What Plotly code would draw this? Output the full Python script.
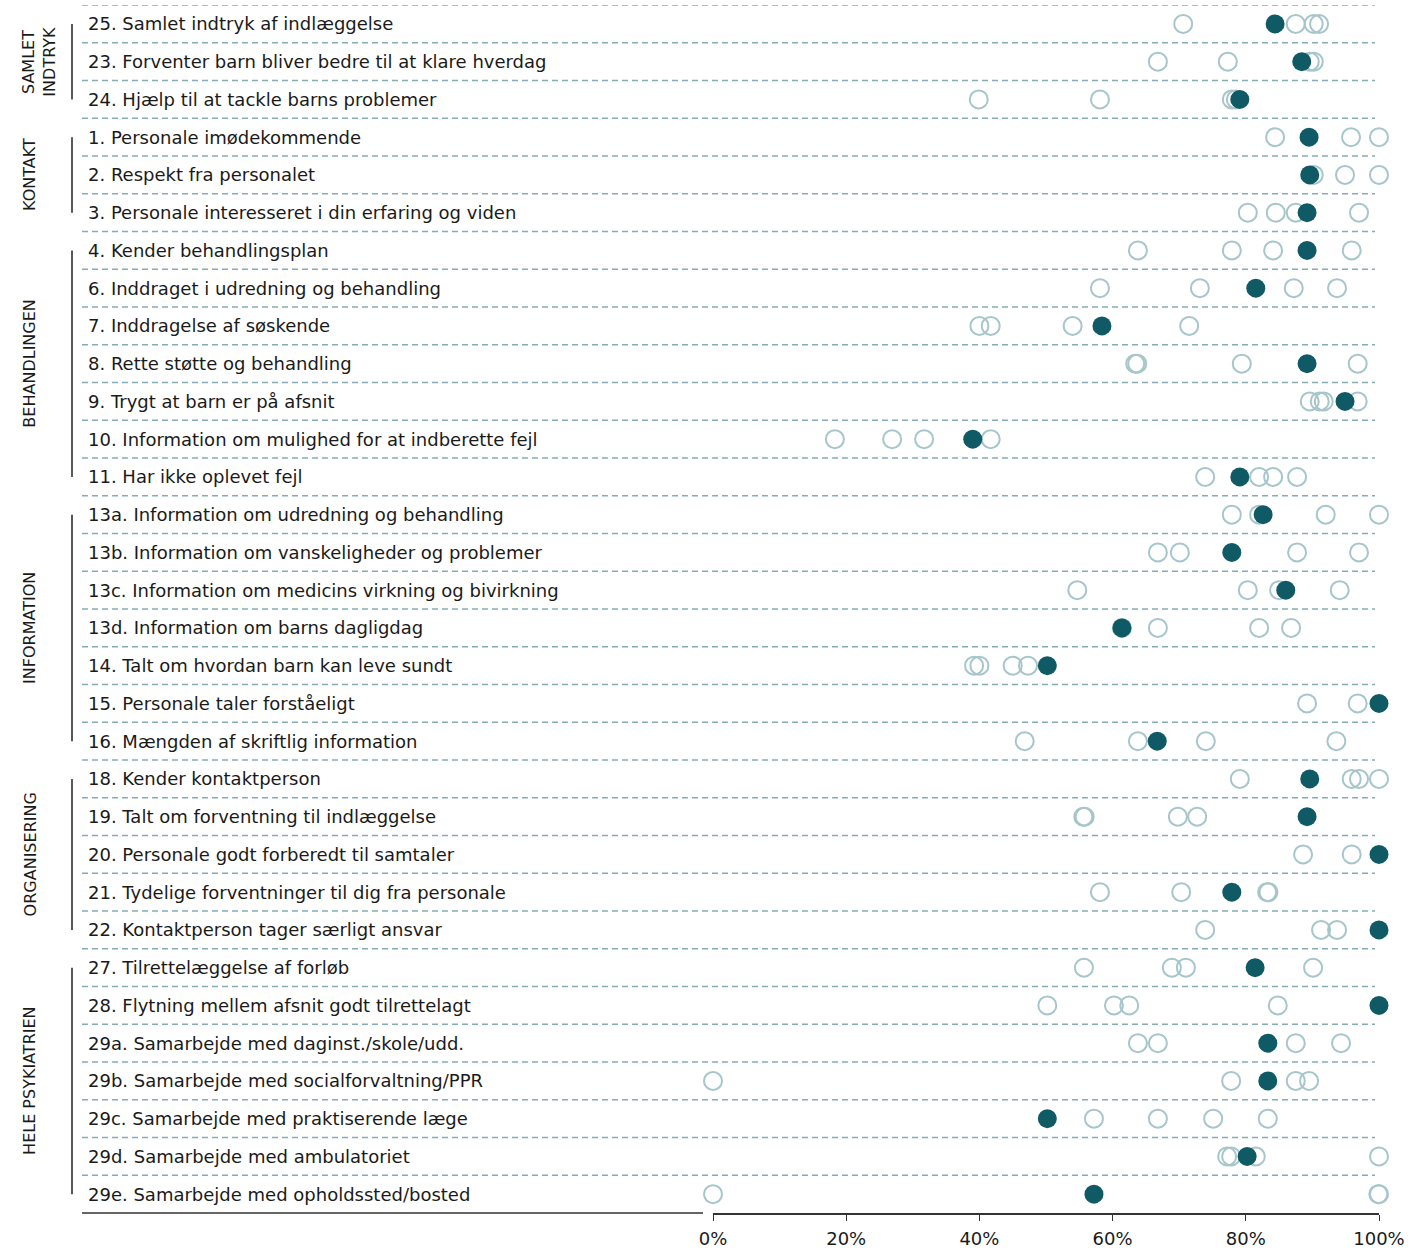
import plotly.graph_objects as go

labels = [
    "25. Samlet indtryk af indlæggelse",
    "23. Forventer barn bliver bedre til at klare hverdag",
    "24. Hjælp til at tackle barns problemer",
    "1. Personale imødekommende",
    "2. Respekt fra personalet",
    "3. Personale interesseret i din erfaring og viden",
    "4. Kender behandlingsplan",
    "6. Inddraget i udredning og behandling",
    "7. Inddragelse af søskende",
    "8. Rette støtte og behandling",
    "9. Trygt at barn er på afsnit",
    "10. Information om mulighed for at indberette fejl",
    "11. Har ikke oplevet fejl",
    "13a. Information om udredning og behandling",
    "13b. Information om vanskeligheder og problemer",
    "13c. Information om medicins virkning og bivirkning",
    "13d. Information om barns dagligdag",
    "14. Talt om hvordan barn kan leve sundt",
    "15. Personale taler forståeligt",
    "16. Mængden af skriftlig information",
    "18. Kender kontaktperson",
    "19. Talt om forventning til indlæggelse",
    "20. Personale godt forberedt til samtaler",
    "21. Tydelige forventninger til dig fra personale",
    "22. Kontaktperson tager særligt ansvar",
    "27. Tilrettelæggelse af forløb",
    "28. Flytning mellem afsnit godt tilrettelagt",
    "29a. Samarbejde med daginst./skole/udd.",
    "29b. Samarbejde med socialforvaltning/PPR",
    "29c. Samarbejde med praktiserende læge",
    "29d. Samarbejde med ambulatoriet",
    "29e. Samarbejde med opholdssted/bosted",
]

group_names = ["SAMLET<br>INDTRYK", "KONTAKT", "BEHANDLINGEN", "INFORMATION",
               "ORGANISERING", "HELE PSYKIATRIEN"]
group_sizes = [3, 3, 7, 7, 5, 7]

# Filled dot: own unit (%)
own_score = [84.4, 88.4, 79.1, 89.5, 89.6, 89.2, 89.2, 81.5, 58.4, 89.2, 94.9,
             39.0, 79.1, 82.6, 77.9, 86.0, 61.4, 50.2, 100, 66.7, 89.6, 89.2,
             100, 77.9, 100, 81.4, 100, 83.3, 83.3, 50.2, 80.2, 57.2]

# Open circles: other units (%)
other_scores = [
    [70.6, 87.5, 90.2, 91.0],
    [66.8, 77.3, 89.6, 90.2],
    [39.9, 58.1, 77.9, 78.5],
    [84.4, 95.8, 100],
    [90.2, 94.9, 100],
    [80.3, 84.5, 87.5, 97.0],
    [63.8, 77.9, 84.1, 95.9],
    [58.1, 73.1, 87.2, 93.7],
    [40.0, 41.7, 54.0, 71.5],
    [63.4, 63.7, 79.4, 96.8],
    [89.6, 91.1, 91.7, 96.8],
    [18.3, 26.9, 31.7, 41.7],
    [73.9, 82.0, 84.1, 87.7],
    [77.9, 82.0, 92.0, 100],
    [66.8, 70.1, 87.7, 97.0],
    [54.7, 80.3, 85.0, 94.1],
    [61.4, 66.8, 82.0, 86.8],
    [39.2, 40.0, 45.0, 47.3],
    [89.2, 96.8],
    [46.8, 63.8, 74.0, 93.6],
    [79.1, 95.9, 97.0, 100],
    [55.6, 55.8, 69.8, 72.7],
    [88.6, 95.9],
    [58.1, 70.3, 83.2, 83.4],
    [73.9, 91.3, 93.7],
    [55.7, 68.9, 71.0, 90.1],
    [50.2, 60.2, 62.5, 84.8],
    [63.8, 66.8, 87.5, 94.3],
    [0, 77.8, 87.5, 89.5],
    [57.2, 66.8, 75.1, 83.3],
    [77.2, 77.8, 81.5, 100],
    [0, 99.9, 100],
]

tick_vals = [0, 20, 40, 60, 80, 100]
tick_text = ["0%", "20%", "40%", "60%", "80%", "100%"]

W, H = 1424, 1250
L, R, T, B = 713, 45, 5, 37
PW = W - L - R


def px2paper(px):
    return (px - L) / PW


FONT = "DejaVu Sans, Verdana, sans-serif"
DARK = "#0f5a64"
LIGHT = "#a6c6cb"
DASH = "#86adb3"
TEXT = "#1a1a1a"

n = len(labels)
rows = list(range(n))

ox, oy = [], []
for i, vals in enumerate(other_scores):
    for v in vals:
        ox.append(v)
        oy.append(i)

fig = go.Figure()
fig.add_trace(go.Scatter(
    x=ox, y=oy, mode="markers", cliponaxis=False, hoverinfo="skip",
    marker=dict(symbol="circle-open", size=18, color=LIGHT,
                line=dict(width=2, color=LIGHT)),
    showlegend=False))
fig.add_trace(go.Scatter(
    x=own_score, y=rows, mode="markers", cliponaxis=False,
    marker=dict(symbol="circle", size=19, color=DARK,
                line=dict(width=0)),
    showlegend=False))

shapes = []
# dashed separators
for i in rows:
    shapes.append(dict(type="line", xref="paper", yref="y",
                       x0=px2paper(82), x1=px2paper(1375), y0=i - 0.5, y1=i - 0.5,
                       line=dict(color=DASH, width=1.3, dash="6px,4px"), layer="below"))
# bottom solid line left part
shapes.append(dict(type="line", xref="paper", yref="paper",
                   x0=px2paper(82), x1=px2paper(703), y0=0, y1=0,
                   line=dict(color="#333333", width=1.5)))

annotations = []
for i, lab in enumerate(labels):
    annotations.append(dict(xref="paper", yref="y", x=px2paper(86), y=i,
                            text=lab, showarrow=False, xanchor="left", yanchor="middle",
                            font=dict(family=FONT, size=18, color=TEXT)))

start = 0
for name, size in zip(group_names, group_sizes):
    y0, y1 = start, start + size - 1
    shapes.append(dict(type="line", xref="paper", yref="y",
                       x0=px2paper(72), x1=px2paper(72), y0=y0, y1=y1,
                       line=dict(color="#222222", width=1.5)))
    gx = 39 if "<br>" in name else 30
    annotations.append(dict(xref="paper", yref="y", x=px2paper(gx),
                            y=(y0 + y1) / 2, text=name, showarrow=False,
                            textangle=-90, xanchor="center", yanchor="middle",
                            font=dict(family=FONT, size=16, color=TEXT)))
    start += size

fig.update_layout(
    width=W, height=H,
    margin=dict(l=L, r=R, t=T, b=B),
    paper_bgcolor="white", plot_bgcolor="white",
    shapes=shapes, annotations=annotations,
    font=dict(family=FONT, size=18, color=TEXT),
    xaxis=dict(range=[0, 100], tickvals=tick_vals, ticktext=tick_text,
               showgrid=False, zeroline=False, showline=True,
               linecolor="#333333", linewidth=1.5, ticks="outside",
               ticklen=6, tickcolor="#333333", tickwidth=1.2,
               ticklabelstandoff=3, automargin=False,
               tickfont=dict(family=FONT, size=18, color=TEXT), fixedrange=True),
    yaxis=dict(range=[n - 0.5, -0.5], showticklabels=False, showgrid=False,
               zeroline=False, showline=False, ticks="", fixedrange=True,
               automargin=False),
)

fig.write_html("out.html", config={"displayModeBar": False},
               post_script="document.body.style.margin='0px';")
